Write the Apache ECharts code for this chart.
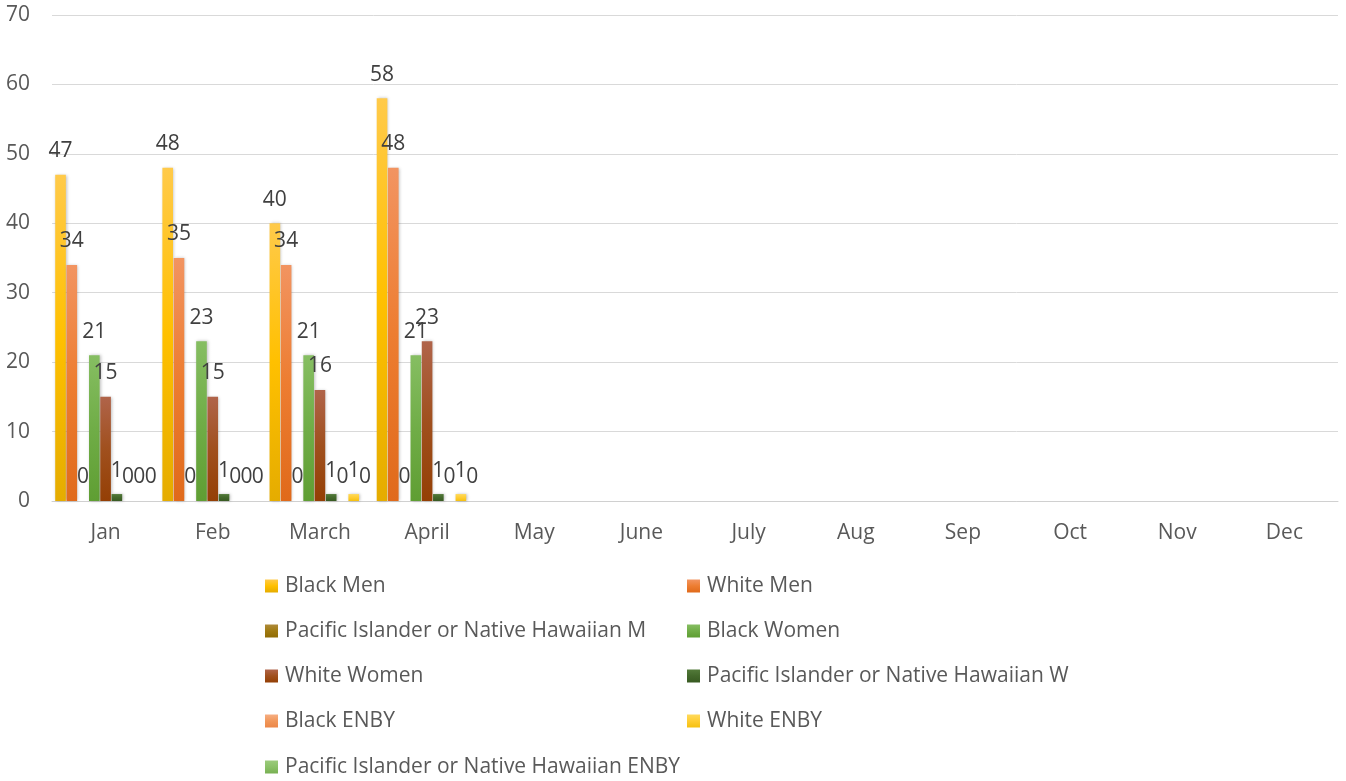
<!DOCTYPE html>
<html>
<head>
<meta charset="utf-8">
<script src="https://cdn.jsdelivr.net/npm/echarts@6/dist/echarts.min.js"></script>
<style>
  html, body { margin: 0; padding: 0; background: #ffffff; }
  #chart { width: 1346px; height: 781px; }
</style>
</head>
<body>
<div id="chart"></div>
<script>
const months = ['Jan','Feb','March','April','May','June','July','Aug','Sep','Oct','Nov','Dec'];
const blackMen = [47, 48, 40, 58, null, null, null, null, null, null, null, null];
const whiteMen = [34, 35, 34, 48, null, null, null, null, null, null, null, null];
const piMen = [0, 0, 0, 0, null, null, null, null, null, null, null, null];
const blackWomen = [21, 23, 21, 21, null, null, null, null, null, null, null, null];
const whiteWomen = [15, 15, 16, 23, null, null, null, null, null, null, null, null];
const piWomen = [1, 1, 1, 1, null, null, null, null, null, null, null, null];
const blackEnby = [0, 0, 0, 0, null, null, null, null, null, null, null, null];
const whiteEnby = [0, 0, 1, 1, null, null, null, null, null, null, null, null];
const piEnby = [0, 0, 0, 0, null, null, null, null, null, null, null, null];
const yTicks = [0, 10, 20, 30, 40, 50, 60, 70];

const FONT = '"Open Sans", "Liberation Sans", Arial, sans-serif';

function grad(top, mid, bottom) {
  return new echarts.graphic.LinearGradient(0, 0, 0, 1, [
    { offset: 0, color: top },
    { offset: 0.5, color: mid },
    { offset: 1, color: bottom }
  ]);
}

const seriesDefs = [
  { name: 'Black Men', data: blackMen, color: grad('#FFCA4A', '#FFC000', '#E5AC00') },
  { name: 'White Men', data: whiteMen, color: grad('#F29461', '#ED7D31', '#E06A1B') },
  { name: 'Pacific Islander or Native Hawaiian M', data: piMen, color: grad('#AE8A3A', '#A07A10', '#906C05') },
  { name: 'Black Women', data: blackWomen, color: grad('#86BE62', '#70AD47', '#5F9E33') },
  { name: 'White Women', data: whiteWomen, color: grad('#B0644A', '#A0501E', '#943F05') },
  { name: 'Pacific Islander or Native Hawaiian W', data: piWomen, color: grad('#537A3A', '#43682B', '#385A22') },
  { name: 'Black ENBY', data: blackEnby, color: grad('#F6AE82', '#F1975A', '#EC8748') },
  { name: 'White ENBY', data: whiteEnby, color: grad('#FFDA5C', '#FFCD33', '#F5C010') },
  { name: 'Pacific Islander or Native Hawaiian ENBY', data: piEnby, color: grad('#9CCB7C', '#8BC168', '#78B052') }
];

const series = seriesDefs.map(s => ({
  name: s.name,
  type: 'bar',
  data: s.data,
  barGap: '6%',
  barCategoryGap: '6%',
  itemStyle: {
    color: s.color,
    shadowColor: 'rgba(0,0,0,0.25)',
    shadowBlur: 3,
    shadowOffsetX: 1,
    shadowOffsetY: 0
  },
  label: {
    show: true,
    position: 'top',
    distance: 13,
    color: '#404040',
    fontFamily: FONT,
    fontSize: 21
  }
}));

// legend grid: two columns, five rows
const legendCols = [265, 687];
const legendRowsY = [585, 630, 675, 720, 766];
const legends = seriesDefs.map((s, i) => ({
  orient: 'horizontal',
  left: legendCols[i % 2],
  top: legendRowsY[Math.floor(i / 2)] - 11,
  itemWidth: 13,
  itemHeight: 13,
  icon: 'rect',
  padding: 0,
  data: [s.name],
  textStyle: { color: '#595959', fontFamily: FONT, fontSize: 21, lineHeight: 24, padding: [0, 0, 0, 2] }
}));

const chart = echarts.init(document.getElementById('chart'), null, { renderer: 'canvas' });
chart.setOption({
  animation: false,
  backgroundColor: '#ffffff',
  grid: { left: 52, right: 8, top: 15, bottom: 280, containLabel: false },
  xAxis: {
    type: 'category',
    data: months,
    axisLine: { show: true, lineStyle: { color: '#D0D0D0', width: 1 } },
    axisTick: { show: false },
    axisLabel: { color: '#595959', fontFamily: FONT, fontSize: 21, margin: 22 }
  },
  yAxis: {
    type: 'value',
    min: yTicks[0],
    max: yTicks[yTicks.length - 1],
    interval: 10,
    axisLine: { show: false },
    axisTick: { show: false },
    splitLine: { lineStyle: { color: '#D9D9D9', width: 1 } },
    axisLabel: { color: '#595959', fontFamily: FONT, fontSize: 21, margin: 22 }
  },
  legend: legends,
  series: series
});
</script>
</body>
</html>
